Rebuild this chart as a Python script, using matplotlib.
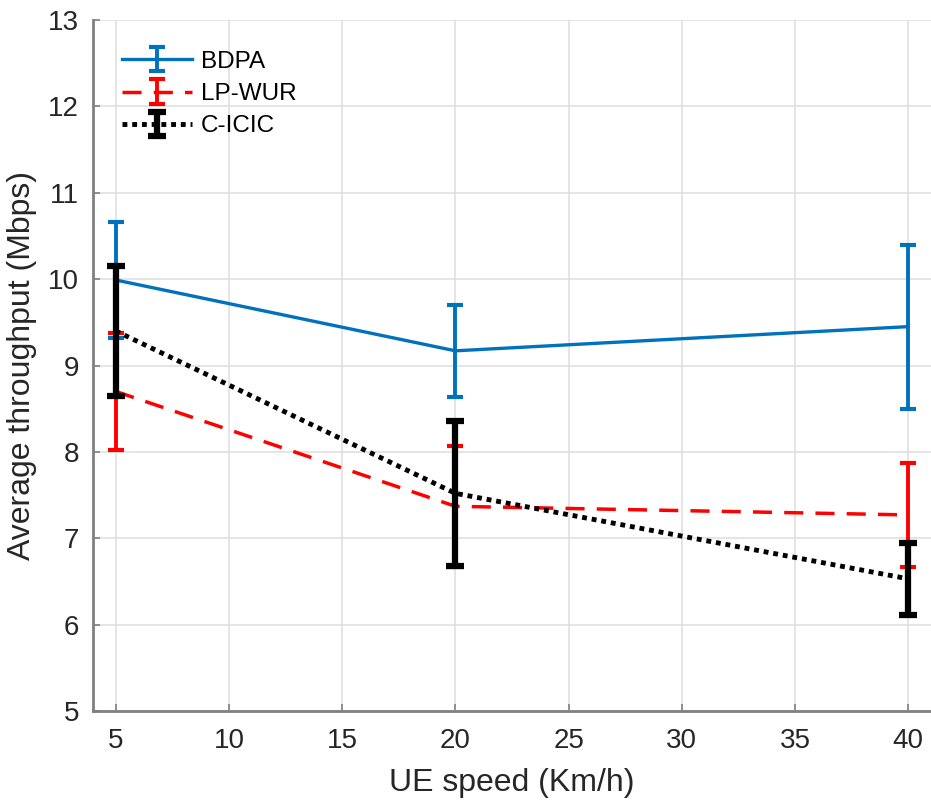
import matplotlib
matplotlib.use('Agg')
import matplotlib.pyplot as plt

plt.rcParams['font.family'] = ['Liberation Sans', 'DejaVu Sans']

speed = [5, 20, 40]

bdpa = [9.99, 9.17, 9.45]
bdpa_err = [0.67, 0.53, 0.95]

lpwur = [8.70, 7.37, 7.27]
lpwur_err = [0.68, 0.70, 0.60]

cicic = [9.40, 7.52, 6.53]
cicic_err = [0.75, 0.84, 0.42]

fig = plt.figure(figsize=(9.31, 8.07), dpi=100)
ax = fig.add_axes([93 / 931, 96 / 807, 838 / 931, 691 / 807])

ax.errorbar(speed, bdpa, yerr=bdpa_err, color='#0072BD', lw=2.4, elinewidth=2.8,
            capsize=5.5, capthick=3, label='BDPA', zorder=3)
ax.errorbar(speed, lpwur, yerr=lpwur_err, color='#FF0000', lw=2.5, ls=(0, (5.5, 3.5)),
            elinewidth=2.8, capsize=5.5, capthick=3, label='LP-WUR', zorder=4)
ax.errorbar(speed, cicic, yerr=cicic_err, color='black', lw=3.5, ls=(0, (1, 1)),
            elinewidth=4.5, capsize=6.5, capthick=4.5, label='C-ICIC', zorder=5)

ax.set_xlim(4, 41)
ax.set_ylim(5, 13)
ax.set_xticks([5, 10, 15, 20, 25, 30, 35, 40])
ax.set_yticks(range(5, 14))
ax.grid(True, color='#e0e0e0', lw=1.2)
ax.set_axisbelow(True)
ax.tick_params(direction='in', labelsize=20, colors='#808080', labelcolor='#262626',
               length=5, width=1.2)
ax.tick_params(axis='x', pad=12)
ax.tick_params(axis='y', pad=10)
for s in ['top', 'right']:
    ax.spines[s].set_visible(False)
for s in ['left', 'bottom']:
    ax.spines[s].set_color('#808080')
    ax.spines[s].set_linewidth(2)

ax.set_xlabel('UE speed (Km/h)', fontsize=23, color='#262626', labelpad=10)
ax.set_ylabel('Average throughput (Mbps)', fontsize=23, color='#262626', labelpad=8)

ax.legend(loc='upper left', fontsize=17.5, frameon=False, handlelength=2.9,
          bbox_to_anchor=(0.014, 0.98), borderaxespad=0.3, labelspacing=0.42,
          handletextpad=0.35)

fig.savefig('out.png', dpi=100)
